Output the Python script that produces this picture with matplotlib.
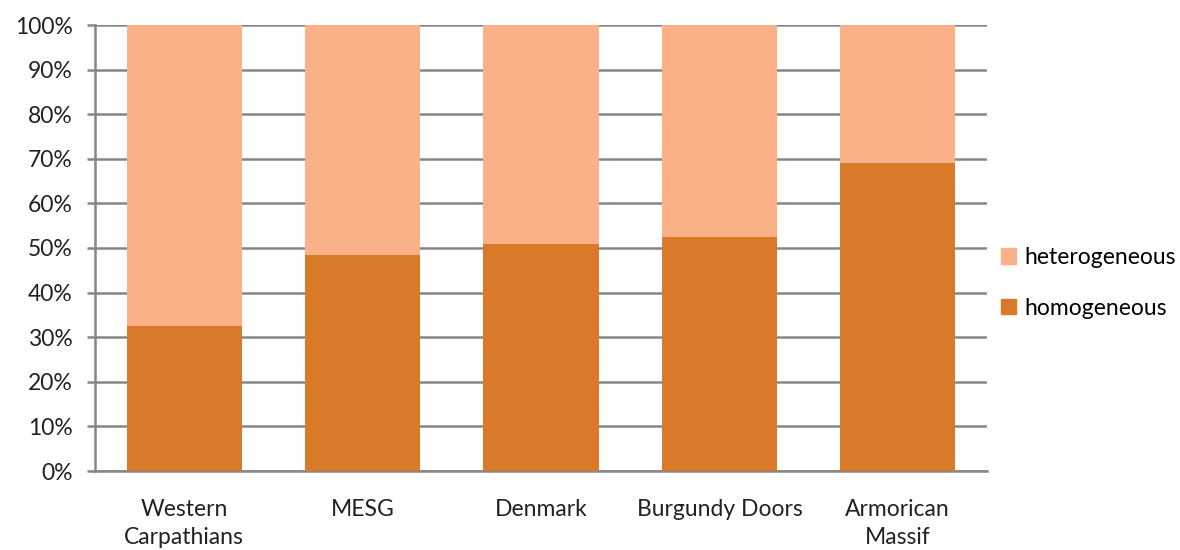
import matplotlib
matplotlib.use("Agg")
import matplotlib.pyplot as plt
from matplotlib.patches import Patch
import numpy as np

categories = ["Western\nCarpathians", "MESG", "Denmark", "Burgundy Doors", "Armorican\nMassif"]
homogeneous = [32.4, 48.5, 50.8, 52.4, 69.1]
heterogeneous = [100 - v for v in homogeneous]
yticks = [0, 10, 20, 30, 40, 50, 60, 70, 80, 90, 100]

plt.rcParams['font.family'] = ['Lato', 'DejaVu Sans']

c_homo = "#D97A2B"
c_hetero = "#FBB188"
grid_c = "#878787"

fig = plt.figure(figsize=(11.8, 5.5), dpi=100)
ax = fig.add_axes([95/1180, 1 - 471/550, (987-95)/1180, (471-25)/550])

x = np.arange(len(categories))
ax.bar(x, homogeneous, width=0.645, color=c_homo, zorder=3)
ax.bar(x, heterogeneous, bottom=homogeneous, width=0.645, color=c_hetero, zorder=3)

ax.set_xlim(-0.5, len(categories) - 0.5)
ax.set_ylim(0, 100)
ax.set_yticks(yticks)
ax.set_yticklabels([f"{v}%" for v in yticks], fontsize=16.5, color="#222222")
ax.set_xticks(x)
ax.set_xticklabels(categories, fontsize=16.5, color="#222222", linespacing=1.45)
ax.tick_params(axis='x', length=0, pad=20)
ax.tick_params(axis='y', length=6, width=1.8, color=grid_c, pad=10, direction='out')
ax.yaxis.grid(True, color=grid_c, linewidth=1.8, zorder=0)
for s in ["top", "right"]:
    ax.spines[s].set_visible(False)
for s in ["left", "bottom"]:
    ax.spines[s].set_color(grid_c)
    ax.spines[s].set_linewidth(1.8)

handles = [Patch(color=c_hetero, label="heterogeneous"), Patch(color=c_homo, label="homogeneous")]
fig.legend(handles=handles, loc="center left", bbox_to_anchor=(985/1180, 1 - 283/550),
           frameon=False, fontsize=16.5, handlelength=0.65, handleheight=0.65,
           handletextpad=0.35, labelspacing=1.3, borderpad=0.2)

fig.savefig("out.png", dpi=100)
